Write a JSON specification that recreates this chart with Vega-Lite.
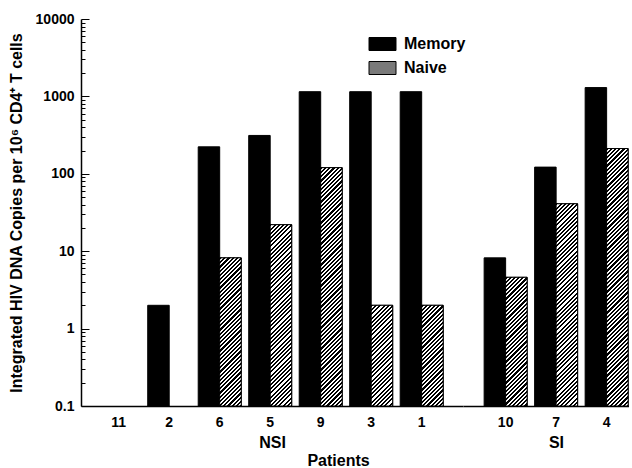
{
  "$schema": "https://vega.github.io/schema/vega-lite/v6.json",
  "background": "white",
  "padding": {"left": 8, "top": 12, "right": 0, "bottom": 0},
  "params": [
    {"name": "hatchStops", "value": [
{"offset":0,"color":"#000"},{"offset":0.005,"color":"#000"},{"offset":0.005,"color":"#fff"},{"offset":0.01,"color":"#fff"},
{"offset":0.01,"color":"#000"},{"offset":0.015,"color":"#000"},{"offset":0.015,"color":"#fff"},{"offset":0.02,"color":"#fff"},
{"offset":0.02,"color":"#000"},{"offset":0.025,"color":"#000"},{"offset":0.025,"color":"#fff"},{"offset":0.03,"color":"#fff"},
{"offset":0.03,"color":"#000"},{"offset":0.035,"color":"#000"},{"offset":0.035,"color":"#fff"},{"offset":0.04,"color":"#fff"},
{"offset":0.04,"color":"#000"},{"offset":0.045,"color":"#000"},{"offset":0.045,"color":"#fff"},{"offset":0.05,"color":"#fff"},
{"offset":0.05,"color":"#000"},{"offset":0.055,"color":"#000"},{"offset":0.055,"color":"#fff"},{"offset":0.06,"color":"#fff"},
{"offset":0.06,"color":"#000"},{"offset":0.065,"color":"#000"},{"offset":0.065,"color":"#fff"},{"offset":0.07,"color":"#fff"},
{"offset":0.07,"color":"#000"},{"offset":0.075,"color":"#000"},{"offset":0.075,"color":"#fff"},{"offset":0.08,"color":"#fff"},
{"offset":0.08,"color":"#000"},{"offset":0.085,"color":"#000"},{"offset":0.085,"color":"#fff"},{"offset":0.09,"color":"#fff"},
{"offset":0.09,"color":"#000"},{"offset":0.095,"color":"#000"},{"offset":0.095,"color":"#fff"},{"offset":0.1,"color":"#fff"},
{"offset":0.1,"color":"#000"},{"offset":0.105,"color":"#000"},{"offset":0.105,"color":"#fff"},{"offset":0.11,"color":"#fff"},
{"offset":0.11,"color":"#000"},{"offset":0.115,"color":"#000"},{"offset":0.115,"color":"#fff"},{"offset":0.12,"color":"#fff"},
{"offset":0.12,"color":"#000"},{"offset":0.125,"color":"#000"},{"offset":0.125,"color":"#fff"},{"offset":0.13,"color":"#fff"},
{"offset":0.13,"color":"#000"},{"offset":0.135,"color":"#000"},{"offset":0.135,"color":"#fff"},{"offset":0.14,"color":"#fff"},
{"offset":0.14,"color":"#000"},{"offset":0.145,"color":"#000"},{"offset":0.145,"color":"#fff"},{"offset":0.15,"color":"#fff"},
{"offset":0.15,"color":"#000"},{"offset":0.155,"color":"#000"},{"offset":0.155,"color":"#fff"},{"offset":0.16,"color":"#fff"},
{"offset":0.16,"color":"#000"},{"offset":0.165,"color":"#000"},{"offset":0.165,"color":"#fff"},{"offset":0.17,"color":"#fff"},
{"offset":0.17,"color":"#000"},{"offset":0.175,"color":"#000"},{"offset":0.175,"color":"#fff"},{"offset":0.18,"color":"#fff"},
{"offset":0.18,"color":"#000"},{"offset":0.185,"color":"#000"},{"offset":0.185,"color":"#fff"},{"offset":0.19,"color":"#fff"},
{"offset":0.19,"color":"#000"},{"offset":0.195,"color":"#000"},{"offset":0.195,"color":"#fff"},{"offset":0.2,"color":"#fff"},
{"offset":0.2,"color":"#000"},{"offset":0.205,"color":"#000"},{"offset":0.205,"color":"#fff"},{"offset":0.21,"color":"#fff"},
{"offset":0.21,"color":"#000"},{"offset":0.215,"color":"#000"},{"offset":0.215,"color":"#fff"},{"offset":0.22,"color":"#fff"},
{"offset":0.22,"color":"#000"},{"offset":0.225,"color":"#000"},{"offset":0.225,"color":"#fff"},{"offset":0.23,"color":"#fff"},
{"offset":0.23,"color":"#000"},{"offset":0.235,"color":"#000"},{"offset":0.235,"color":"#fff"},{"offset":0.24,"color":"#fff"},
{"offset":0.24,"color":"#000"},{"offset":0.245,"color":"#000"},{"offset":0.245,"color":"#fff"},{"offset":0.25,"color":"#fff"},
{"offset":0.25,"color":"#000"},{"offset":0.255,"color":"#000"},{"offset":0.255,"color":"#fff"},{"offset":0.26,"color":"#fff"},
{"offset":0.26,"color":"#000"},{"offset":0.265,"color":"#000"},{"offset":0.265,"color":"#fff"},{"offset":0.27,"color":"#fff"},
{"offset":0.27,"color":"#000"},{"offset":0.275,"color":"#000"},{"offset":0.275,"color":"#fff"},{"offset":0.28,"color":"#fff"},
{"offset":0.28,"color":"#000"},{"offset":0.285,"color":"#000"},{"offset":0.285,"color":"#fff"},{"offset":0.29,"color":"#fff"},
{"offset":0.29,"color":"#000"},{"offset":0.295,"color":"#000"},{"offset":0.295,"color":"#fff"},{"offset":0.3,"color":"#fff"},
{"offset":0.3,"color":"#000"},{"offset":0.305,"color":"#000"},{"offset":0.305,"color":"#fff"},{"offset":0.31,"color":"#fff"},
{"offset":0.31,"color":"#000"},{"offset":0.315,"color":"#000"},{"offset":0.315,"color":"#fff"},{"offset":0.32,"color":"#fff"},
{"offset":0.32,"color":"#000"},{"offset":0.325,"color":"#000"},{"offset":0.325,"color":"#fff"},{"offset":0.33,"color":"#fff"},
{"offset":0.33,"color":"#000"},{"offset":0.335,"color":"#000"},{"offset":0.335,"color":"#fff"},{"offset":0.34,"color":"#fff"},
{"offset":0.34,"color":"#000"},{"offset":0.345,"color":"#000"},{"offset":0.345,"color":"#fff"},{"offset":0.35,"color":"#fff"},
{"offset":0.35,"color":"#000"},{"offset":0.355,"color":"#000"},{"offset":0.355,"color":"#fff"},{"offset":0.36,"color":"#fff"},
{"offset":0.36,"color":"#000"},{"offset":0.365,"color":"#000"},{"offset":0.365,"color":"#fff"},{"offset":0.37,"color":"#fff"},
{"offset":0.37,"color":"#000"},{"offset":0.375,"color":"#000"},{"offset":0.375,"color":"#fff"},{"offset":0.38,"color":"#fff"},
{"offset":0.38,"color":"#000"},{"offset":0.385,"color":"#000"},{"offset":0.385,"color":"#fff"},{"offset":0.39,"color":"#fff"},
{"offset":0.39,"color":"#000"},{"offset":0.395,"color":"#000"},{"offset":0.395,"color":"#fff"},{"offset":0.4,"color":"#fff"},
{"offset":0.4,"color":"#000"},{"offset":0.405,"color":"#000"},{"offset":0.405,"color":"#fff"},{"offset":0.41,"color":"#fff"},
{"offset":0.41,"color":"#000"},{"offset":0.415,"color":"#000"},{"offset":0.415,"color":"#fff"},{"offset":0.42,"color":"#fff"},
{"offset":0.42,"color":"#000"},{"offset":0.425,"color":"#000"},{"offset":0.425,"color":"#fff"},{"offset":0.43,"color":"#fff"},
{"offset":0.43,"color":"#000"},{"offset":0.435,"color":"#000"},{"offset":0.435,"color":"#fff"},{"offset":0.44,"color":"#fff"},
{"offset":0.44,"color":"#000"},{"offset":0.445,"color":"#000"},{"offset":0.445,"color":"#fff"},{"offset":0.45,"color":"#fff"},
{"offset":0.45,"color":"#000"},{"offset":0.455,"color":"#000"},{"offset":0.455,"color":"#fff"},{"offset":0.46,"color":"#fff"},
{"offset":0.46,"color":"#000"},{"offset":0.465,"color":"#000"},{"offset":0.465,"color":"#fff"},{"offset":0.47,"color":"#fff"},
{"offset":0.47,"color":"#000"},{"offset":0.475,"color":"#000"},{"offset":0.475,"color":"#fff"},{"offset":0.48,"color":"#fff"},
{"offset":0.48,"color":"#000"},{"offset":0.485,"color":"#000"},{"offset":0.485,"color":"#fff"},{"offset":0.49,"color":"#fff"},
{"offset":0.49,"color":"#000"},{"offset":0.495,"color":"#000"},{"offset":0.495,"color":"#fff"},{"offset":0.5,"color":"#fff"},
{"offset":0.5,"color":"#000"},{"offset":0.505,"color":"#000"},{"offset":0.505,"color":"#fff"},{"offset":0.51,"color":"#fff"},
{"offset":0.51,"color":"#000"},{"offset":0.515,"color":"#000"},{"offset":0.515,"color":"#fff"},{"offset":0.52,"color":"#fff"},
{"offset":0.52,"color":"#000"},{"offset":0.525,"color":"#000"},{"offset":0.525,"color":"#fff"},{"offset":0.53,"color":"#fff"},
{"offset":0.53,"color":"#000"},{"offset":0.535,"color":"#000"},{"offset":0.535,"color":"#fff"},{"offset":0.54,"color":"#fff"},
{"offset":0.54,"color":"#000"},{"offset":0.545,"color":"#000"},{"offset":0.545,"color":"#fff"},{"offset":0.55,"color":"#fff"},
{"offset":0.55,"color":"#000"},{"offset":0.555,"color":"#000"},{"offset":0.555,"color":"#fff"},{"offset":0.56,"color":"#fff"},
{"offset":0.56,"color":"#000"},{"offset":0.565,"color":"#000"},{"offset":0.565,"color":"#fff"},{"offset":0.57,"color":"#fff"},
{"offset":0.57,"color":"#000"},{"offset":0.575,"color":"#000"},{"offset":0.575,"color":"#fff"},{"offset":0.58,"color":"#fff"},
{"offset":0.58,"color":"#000"},{"offset":0.585,"color":"#000"},{"offset":0.585,"color":"#fff"},{"offset":0.59,"color":"#fff"},
{"offset":0.59,"color":"#000"},{"offset":0.595,"color":"#000"},{"offset":0.595,"color":"#fff"},{"offset":0.6,"color":"#fff"},
{"offset":0.6,"color":"#000"},{"offset":0.605,"color":"#000"},{"offset":0.605,"color":"#fff"},{"offset":0.61,"color":"#fff"},
{"offset":0.61,"color":"#000"},{"offset":0.615,"color":"#000"},{"offset":0.615,"color":"#fff"},{"offset":0.62,"color":"#fff"},
{"offset":0.62,"color":"#000"},{"offset":0.625,"color":"#000"},{"offset":0.625,"color":"#fff"},{"offset":0.63,"color":"#fff"},
{"offset":0.63,"color":"#000"},{"offset":0.635,"color":"#000"},{"offset":0.635,"color":"#fff"},{"offset":0.64,"color":"#fff"},
{"offset":0.64,"color":"#000"},{"offset":0.645,"color":"#000"},{"offset":0.645,"color":"#fff"},{"offset":0.65,"color":"#fff"},
{"offset":0.65,"color":"#000"},{"offset":0.655,"color":"#000"},{"offset":0.655,"color":"#fff"},{"offset":0.66,"color":"#fff"},
{"offset":0.66,"color":"#000"},{"offset":0.665,"color":"#000"},{"offset":0.665,"color":"#fff"},{"offset":0.67,"color":"#fff"},
{"offset":0.67,"color":"#000"},{"offset":0.675,"color":"#000"},{"offset":0.675,"color":"#fff"},{"offset":0.68,"color":"#fff"},
{"offset":0.68,"color":"#000"},{"offset":0.685,"color":"#000"},{"offset":0.685,"color":"#fff"},{"offset":0.69,"color":"#fff"},
{"offset":0.69,"color":"#000"},{"offset":0.695,"color":"#000"},{"offset":0.695,"color":"#fff"},{"offset":0.7,"color":"#fff"},
{"offset":0.7,"color":"#000"},{"offset":0.705,"color":"#000"},{"offset":0.705,"color":"#fff"},{"offset":0.71,"color":"#fff"},
{"offset":0.71,"color":"#000"},{"offset":0.715,"color":"#000"},{"offset":0.715,"color":"#fff"},{"offset":0.72,"color":"#fff"},
{"offset":0.72,"color":"#000"},{"offset":0.725,"color":"#000"},{"offset":0.725,"color":"#fff"},{"offset":0.73,"color":"#fff"},
{"offset":0.73,"color":"#000"},{"offset":0.735,"color":"#000"},{"offset":0.735,"color":"#fff"},{"offset":0.74,"color":"#fff"},
{"offset":0.74,"color":"#000"},{"offset":0.745,"color":"#000"},{"offset":0.745,"color":"#fff"},{"offset":0.75,"color":"#fff"},
{"offset":0.75,"color":"#000"},{"offset":0.755,"color":"#000"},{"offset":0.755,"color":"#fff"},{"offset":0.76,"color":"#fff"},
{"offset":0.76,"color":"#000"},{"offset":0.765,"color":"#000"},{"offset":0.765,"color":"#fff"},{"offset":0.77,"color":"#fff"},
{"offset":0.77,"color":"#000"},{"offset":0.775,"color":"#000"},{"offset":0.775,"color":"#fff"},{"offset":0.78,"color":"#fff"},
{"offset":0.78,"color":"#000"},{"offset":0.785,"color":"#000"},{"offset":0.785,"color":"#fff"},{"offset":0.79,"color":"#fff"},
{"offset":0.79,"color":"#000"},{"offset":0.795,"color":"#000"},{"offset":0.795,"color":"#fff"},{"offset":0.8,"color":"#fff"},
{"offset":0.8,"color":"#000"},{"offset":0.805,"color":"#000"},{"offset":0.805,"color":"#fff"},{"offset":0.81,"color":"#fff"},
{"offset":0.81,"color":"#000"},{"offset":0.815,"color":"#000"},{"offset":0.815,"color":"#fff"},{"offset":0.82,"color":"#fff"},
{"offset":0.82,"color":"#000"},{"offset":0.825,"color":"#000"},{"offset":0.825,"color":"#fff"},{"offset":0.83,"color":"#fff"},
{"offset":0.83,"color":"#000"},{"offset":0.835,"color":"#000"},{"offset":0.835,"color":"#fff"},{"offset":0.84,"color":"#fff"},
{"offset":0.84,"color":"#000"},{"offset":0.845,"color":"#000"},{"offset":0.845,"color":"#fff"},{"offset":0.85,"color":"#fff"},
{"offset":0.85,"color":"#000"},{"offset":0.855,"color":"#000"},{"offset":0.855,"color":"#fff"},{"offset":0.86,"color":"#fff"},
{"offset":0.86,"color":"#000"},{"offset":0.865,"color":"#000"},{"offset":0.865,"color":"#fff"},{"offset":0.87,"color":"#fff"},
{"offset":0.87,"color":"#000"},{"offset":0.875,"color":"#000"},{"offset":0.875,"color":"#fff"},{"offset":0.88,"color":"#fff"},
{"offset":0.88,"color":"#000"},{"offset":0.885,"color":"#000"},{"offset":0.885,"color":"#fff"},{"offset":0.89,"color":"#fff"},
{"offset":0.89,"color":"#000"},{"offset":0.895,"color":"#000"},{"offset":0.895,"color":"#fff"},{"offset":0.9,"color":"#fff"},
{"offset":0.9,"color":"#000"},{"offset":0.905,"color":"#000"},{"offset":0.905,"color":"#fff"},{"offset":0.91,"color":"#fff"},
{"offset":0.91,"color":"#000"},{"offset":0.915,"color":"#000"},{"offset":0.915,"color":"#fff"},{"offset":0.92,"color":"#fff"},
{"offset":0.92,"color":"#000"},{"offset":0.925,"color":"#000"},{"offset":0.925,"color":"#fff"},{"offset":0.93,"color":"#fff"},
{"offset":0.93,"color":"#000"},{"offset":0.935,"color":"#000"},{"offset":0.935,"color":"#fff"},{"offset":0.94,"color":"#fff"},
{"offset":0.94,"color":"#000"},{"offset":0.945,"color":"#000"},{"offset":0.945,"color":"#fff"},{"offset":0.95,"color":"#fff"},
{"offset":0.95,"color":"#000"},{"offset":0.955,"color":"#000"},{"offset":0.955,"color":"#fff"},{"offset":0.96,"color":"#fff"},
{"offset":0.96,"color":"#000"},{"offset":0.965,"color":"#000"},{"offset":0.965,"color":"#fff"},{"offset":0.97,"color":"#fff"},
{"offset":0.97,"color":"#000"},{"offset":0.975,"color":"#000"},{"offset":0.975,"color":"#fff"},{"offset":0.98,"color":"#fff"},
{"offset":0.98,"color":"#000"},{"offset":0.985,"color":"#000"},{"offset":0.985,"color":"#fff"},{"offset":0.99,"color":"#fff"},
{"offset":0.99,"color":"#000"},{"offset":0.995,"color":"#000"},{"offset":0.995,"color":"#fff"},{"offset":1,"color":"#fff"}
    ]}
  ],
  "data": {"values": [
    {"patient": "2", "group": "NSI", "type": "Memory", "value": 2.0},
    {"patient": "6", "group": "NSI", "type": "Memory", "value": 223},
    {"patient": "6", "group": "NSI", "type": "Naive", "value": 8.2},
    {"patient": "5", "group": "NSI", "type": "Memory", "value": 313},
    {"patient": "5", "group": "NSI", "type": "Naive", "value": 22},
    {"patient": "9", "group": "NSI", "type": "Memory", "value": 1150},
    {"patient": "9", "group": "NSI", "type": "Naive", "value": 120},
    {"patient": "3", "group": "NSI", "type": "Memory", "value": 1150},
    {"patient": "3", "group": "NSI", "type": "Naive", "value": 2.0},
    {"patient": "1", "group": "NSI", "type": "Memory", "value": 1150},
    {"patient": "1", "group": "NSI", "type": "Naive", "value": 2.0},
    {"patient": "10", "group": "SI", "type": "Memory", "value": 8.2},
    {"patient": "10", "group": "SI", "type": "Naive", "value": 4.6},
    {"patient": "7", "group": "SI", "type": "Memory", "value": 122},
    {"patient": "7", "group": "SI", "type": "Naive", "value": 41},
    {"patient": "4", "group": "SI", "type": "Memory", "value": 1300},
    {"patient": "4", "group": "SI", "type": "Naive", "value": 212}
  ]},
  "config": {
    "view": {"stroke": null},
    "font": "Liberation Sans",
    "axis": {
      "labelFont": "Liberation Sans", "labelFontWeight": "bold", "labelFontSize": 14, "labelColor": "black",
      "titleFont": "Liberation Sans", "titleFontWeight": "bold", "titleColor": "black",
      "domainColor": "black", "tickColor": "black", "grid": false
    }
  },
  "title": {"text": "Patients", "orient": "bottom", "anchor": "middle", "font": "Liberation Sans", "fontSize": 16, "fontWeight": "bold", "color": "black", "offset": 3, "dx": 20},
  "spacing": 0,
  "resolve": {"scale": {"x": "independent", "xOffset": "independent", "y": "shared", "fill": "shared"}, "legend": {"fill": "shared"}},
  "hconcat": [
    {
      "width": 382, "height": 387,
      "transform": [{"filter": "datum.group === 'NSI'"}],
      "encoding": {
        "x": {"field": "patient", "type": "nominal",
          "scale": {"domain": ["11", "2", "6", "5", "9", "3", "1"], "paddingInner": 0.149, "paddingOuter": 0.357, "align": 0.45},
          "axis": {"title": "NSI", "labelAngle": 0, "ticks": false, "labelPadding": 9, "titlePadding": 5, "titleFontSize": 16, "domainWidth": 1.5}},
        "xOffset": {"field": "type", "scale": {"domain": ["Memory", "Naive"], "paddingInner": 0, "paddingOuter": 0}},
        "y": {"field": "value", "type": "quantitative", "stack": null,
          "scale": {"type": "log", "domain": [0.1, 10000], "nice": false},
          "axis": {
            "title": "Integrated HIV DNA Copies per 10⁶ CD4⁺ T cells", "titleFontSize": 16, "titlePadding": 11,
            "values": [0.1,0.2,0.3,0.4,0.5,0.6,0.7,0.8,0.9,1,2,3,4,5,6,7,8,9,10,20,30,40,50,60,70,80,90,100,200,300,400,500,600,700,800,900,1000,2000,3000,4000,5000,6000,7000,8000,9000,10000],
            "format": "~g",
            "labelExpr": "indexof([0.1,1,10,100,1000,10000], datum.value) >= 0 ? datum.label : ''",
            "labelOverlap": false,
            "tickSize": {"condition": {"test": "indexof([0.1,1,10,100,1000,10000], datum.value) >= 0", "value": -8}, "value": -4},
            "labelPadding": 15,
            "domainWidth": 1.5, "tickWidth": 1
          }}
      },
      "layer": [
        {"mark": {"type": "bar", "stroke": "black", "strokeWidth": 1},
         "encoding": {"fill": {"field": "type", "type": "nominal",
           "scale": {"domain": ["Memory", "Naive"], "range": ["black", "#7a7a7a"]},
           "legend": {"title": null, "orient": "none", "legendX": 290.5, "legendY": 14,
             "symbolType": "M-1.2857,-0.619H1.2857V0.619H-1.2857Z", "symbolSize": 441,
             "symbolStrokeColor": "black", "symbolStrokeWidth": 1, "symbolOpacity": 1,
             "labelFont": "Liberation Sans", "labelFontSize": 16, "labelFontWeight": "bold", "labelColor": "black",
             "labelOffset": 10.5, "rowPadding": 4, "padding": 0}}}},
        {"transform": [{"filter": "datum.type === 'Naive'"}],
         "mark": {"type": "bar", "stroke": "black", "strokeWidth": 1,
           "fill": {"expr": "{gradient: 'linear', x1: 0, y1: 0, x2: 21.5*420/(462.25 + pow(77.4*(log(datum.value)/LN10 + 1), 2)), y2: 77.4*(log(datum.value)/LN10 + 1)*420/(462.25 + pow(77.4*(log(datum.value)/LN10 + 1), 2)), stops: hatchStops}"}}}
      ]
    },
    {
      "width": 166, "height": 387,
      "transform": [{"filter": "datum.group === 'SI'"}],
      "encoding": {
        "x": {"field": "patient", "type": "nominal",
          "scale": {"domain": ["10", "7", "4"], "paddingInner": 0.149, "paddingOuter": 0.218, "align": 0.96},
          "axis": {"title": "SI", "labelAngle": 0, "ticks": false, "labelPadding": 9, "titlePadding": 5, "titleFontSize": 16, "domainWidth": 1.5, "titleX": 93}},
        "xOffset": {"field": "type", "scale": {"domain": ["Memory", "Naive"], "paddingInner": 0, "paddingOuter": 0}},
        "y": {"field": "value", "type": "quantitative", "stack": null,
          "scale": {"type": "log", "domain": [0.1, 10000], "nice": false},
          "axis": null}
      },
      "layer": [
        {"mark": {"type": "bar", "stroke": "black", "strokeWidth": 1},
         "encoding": {"fill": {"field": "type", "type": "nominal",
           "scale": {"domain": ["Memory", "Naive"], "range": ["black", "#7a7a7a"]},
           "legend": {"title": null, "orient": "none", "legendX": 290.5, "legendY": 14,
             "symbolType": "M-1.2857,-0.619H1.2857V0.619H-1.2857Z", "symbolSize": 441,
             "symbolStrokeColor": "black", "symbolStrokeWidth": 1, "symbolOpacity": 1,
             "labelFont": "Liberation Sans", "labelFontSize": 16, "labelFontWeight": "bold", "labelColor": "black",
             "labelOffset": 10.5, "rowPadding": 4, "padding": 0}}}},
        {"transform": [{"filter": "datum.type === 'Naive'"}],
         "mark": {"type": "bar", "stroke": "black", "strokeWidth": 1,
           "fill": {"expr": "{gradient: 'linear', x1: 0, y1: 0, x2: 21.5*420/(462.25 + pow(77.4*(log(datum.value)/LN10 + 1), 2)), y2: 77.4*(log(datum.value)/LN10 + 1)*420/(462.25 + pow(77.4*(log(datum.value)/LN10 + 1), 2)), stops: hatchStops}"}}}
      ]
    }
  ]
}
